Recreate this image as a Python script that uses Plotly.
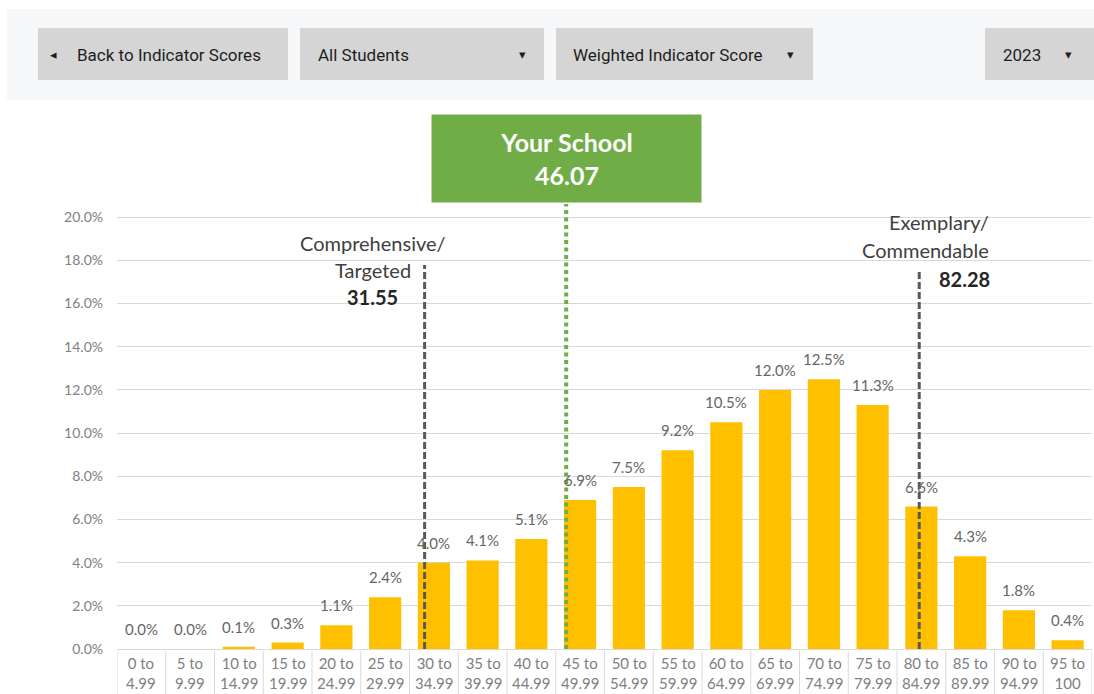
import plotly.graph_objects as go

# ---------------- data ----------------
categories = ["0 to<br>4.99", "5 to<br>9.99", "10 to<br>14.99", "15 to<br>19.99", "20 to<br>24.99",
              "25 to<br>29.99", "30 to<br>34.99", "35 to<br>39.99", "40 to<br>44.99", "45 to<br>49.99",
              "50 to<br>54.99", "55 to<br>59.99", "60 to<br>64.99", "65 to<br>69.99", "70 to<br>74.99",
              "75 to<br>79.99", "80 to<br>84.99", "85 to<br>89.99", "90 to<br>94.99", "95 to<br>100"]
percent_values = [0.0, 0.0, 0.1, 0.3, 1.1, 2.4, 4.0, 4.1, 5.1, 6.9,
                  7.5, 9.2, 10.5, 12.0, 12.5, 11.3, 6.6, 4.3, 1.8, 0.4]
y_tick_values = [0, 2, 4, 6, 8, 10, 12, 14, 16, 18, 20]
y_tick_labels = ["0.0%", "2.0%", "4.0%", "6.0%", "8.0%", "10.0%", "12.0%", "14.0%", "16.0%", "18.0%", "20.0%"]
comprehensive_score = 31.55
exemplary_score = 82.28
your_school_score = 46.07
bin_size = 5
header_buttons = ["Back to Indicator Scores", "All Students", "Weighted Indicator Score", "2023"]

# ---------------- layout constants ----------------
W, H = 1094, 694
L, R = 117, 2
px_per_pct = 21.59
zero_px = 649
y_max = zero_px / px_per_pct
y_min = -(H - zero_px) / px_per_pct


def ydat(py):
    return (zero_px - py) / px_per_pct


def xp(px):
    return (px - L) / (W - L - R)


def yp(py):
    return (H - py) / H


def score_pos(score):
    return score / bin_size - 0.5


idx = list(range(len(categories)))
FONT = "Lato, 'Open Sans', sans-serif"

fig = go.Figure()
fig.add_trace(go.Bar(
    x=idx, y=percent_values, width=0.66,
    marker=dict(color="#FFC000", line=dict(width=0)),
    hoverinfo="skip",
))

shapes = []
annotations = []

# bar value labels
for i, v in zip(idx, percent_values):
    annotations.append(dict(xref="x", yref="y", x=i, y=v, text=f"{v:.1f}%", showarrow=False,
                            xanchor="center", yanchor="middle", yshift=20,
                            font=dict(family=FONT, size=15, color="#666666")))

# header panel and buttons
shapes.append(dict(type="rect", xref="paper", yref="paper", x0=xp(7), x1=xp(1100), y0=yp(100), y1=yp(9),
                   fillcolor="#f6f7f8", line=dict(width=0), layer="below"))
btn_boxes = [(38, 288), (300, 544), (556, 813), (985, 1100)]
for (a, b) in btn_boxes:
    shapes.append(dict(type="rect", xref="paper", yref="paper", x0=xp(a), x1=xp(b), y0=yp(80), y1=yp(28),
                       fillcolor="#d5d5d5", line=dict(width=0), layer="below"))
btn_text_x = [75, 316, 571, 1001]
for t, x in zip(header_buttons, btn_text_x):
    annotations.append(dict(xref="paper", yref="paper", x=xp(x), y=yp(55), text=t, showarrow=False,
                            xanchor="left", yanchor="middle",
                            font=dict(family="Roboto, sans-serif", size=17, color="#1e1e1e")))
for ax_px, ch in [(53, "◂"), (522, "▾"), (790, "▾"), (1068, "▾")]:
    annotations.append(dict(xref="paper", yref="paper", x=xp(ax_px), y=yp(55), text=ch, showarrow=False,
                            xanchor="center", yanchor="middle",
                            font=dict(family="DejaVu Sans", size=13, color="#1e1e1e")))

# table cells under the axis
for i in range(len(categories) + 1):
    shapes.append(dict(type="line", xref="x", yref="y", x0=i - 0.5, x1=i - 0.5, y0=-0.1, y1=y_min,
                       line=dict(color="#d9d9d9", width=1)))
for i, c in enumerate(categories):
    annotations.append(dict(xref="x", yref="y", x=i, y=ydat(673), text=c, showarrow=False,
                            xanchor="center", yanchor="middle",
                            font=dict(family=FONT, size=15, color="#808080")))

# threshold lines
xc = score_pos(comprehensive_score)
xe = score_pos(exemplary_score)
xs = score_pos(your_school_score)
shapes.append(dict(type="line", xref="x", yref="y", x0=xc, x1=xc, y0=0, y1=ydat(265),
                   line=dict(color="#595959", width=3, dash="7px,3px")))
shapes.append(dict(type="line", xref="x", yref="y", x0=xe, x1=xe, y0=0, y1=ydat(272),
                   line=dict(color="#595959", width=3, dash="7px,3px")))
shapes.append(dict(type="line", xref="x", yref="y", x0=xs, x1=xs, y0=0, y1=ydat(204),
                   line=dict(color="#70AD47", width=4, dash="4px,3.5px")))

# threshold labels
lab_font = dict(family=FONT, size=20, color="#404040")
bold_font = dict(family=FONT, size=20, color="#262626")
annotations += [
    dict(xref="x", yref="y", x=xc, y=ydat(243), text="Comprehensive/", showarrow=False,
         xanchor="center", yanchor="middle", xshift=-52, font=lab_font),
    dict(xref="x", yref="y", x=xc, y=ydat(270), text="Targeted", showarrow=False,
         xanchor="center", yanchor="middle", xshift=-52, font=lab_font),
    dict(xref="x", yref="y", x=xc, y=ydat(297), text=f"<b>{comprehensive_score:.2f}</b>", showarrow=False,
         xanchor="center", yanchor="middle", xshift=-52, font=bold_font),
    dict(xref="x", yref="y", x=xe, y=ydat(222), text="Exemplary/", showarrow=False,
         xanchor="right", yanchor="middle", xshift=72, font=lab_font),
    dict(xref="x", yref="y", x=xe, y=ydat(250), text="Commendable", showarrow=False,
         xanchor="right", yanchor="middle", xshift=72, font=lab_font),
    dict(xref="x", yref="y", x=xe, y=ydat(279), text=f"<b>{exemplary_score:.2f}</b>", showarrow=False,
         xanchor="left", yanchor="middle", xshift=18, font=bold_font),
    dict(xref="x", yref="y", x=xs, y=ydat(158.5),
         text=f"<b>Your School</b><br><b>{your_school_score:.2f}</b>", showarrow=False,
         xanchor="center", yanchor="middle", width=265, height=83, bgcolor="#70AD47", borderpad=2,
         font=dict(family=FONT, size=25, color="#ffffff")),
]

fig.update_layout(
    width=W, height=H,
    margin=dict(l=L, r=R, t=0, b=0),
    paper_bgcolor="#ffffff", plot_bgcolor="#ffffff",
    showlegend=False,
    shapes=shapes, annotations=annotations,
    xaxis=dict(range=[-0.5, len(categories) - 0.5], showticklabels=False, showgrid=False,
               zeroline=False, showline=False, fixedrange=True),
    yaxis=dict(range=[y_min, y_max], tickvals=y_tick_values, ticktext=y_tick_labels,
               showgrid=True, gridcolor="#d9d9d9", gridwidth=1, zeroline=False, showline=False,
               ticks="", ticklabelstandoff=13,
               tickfont=dict(family=FONT, size=14, color="#808080"), fixedrange=True),
)

fig.write_html("out.html", config={"displayModeBar": False},
               post_script="document.body.style.margin='0px';")
